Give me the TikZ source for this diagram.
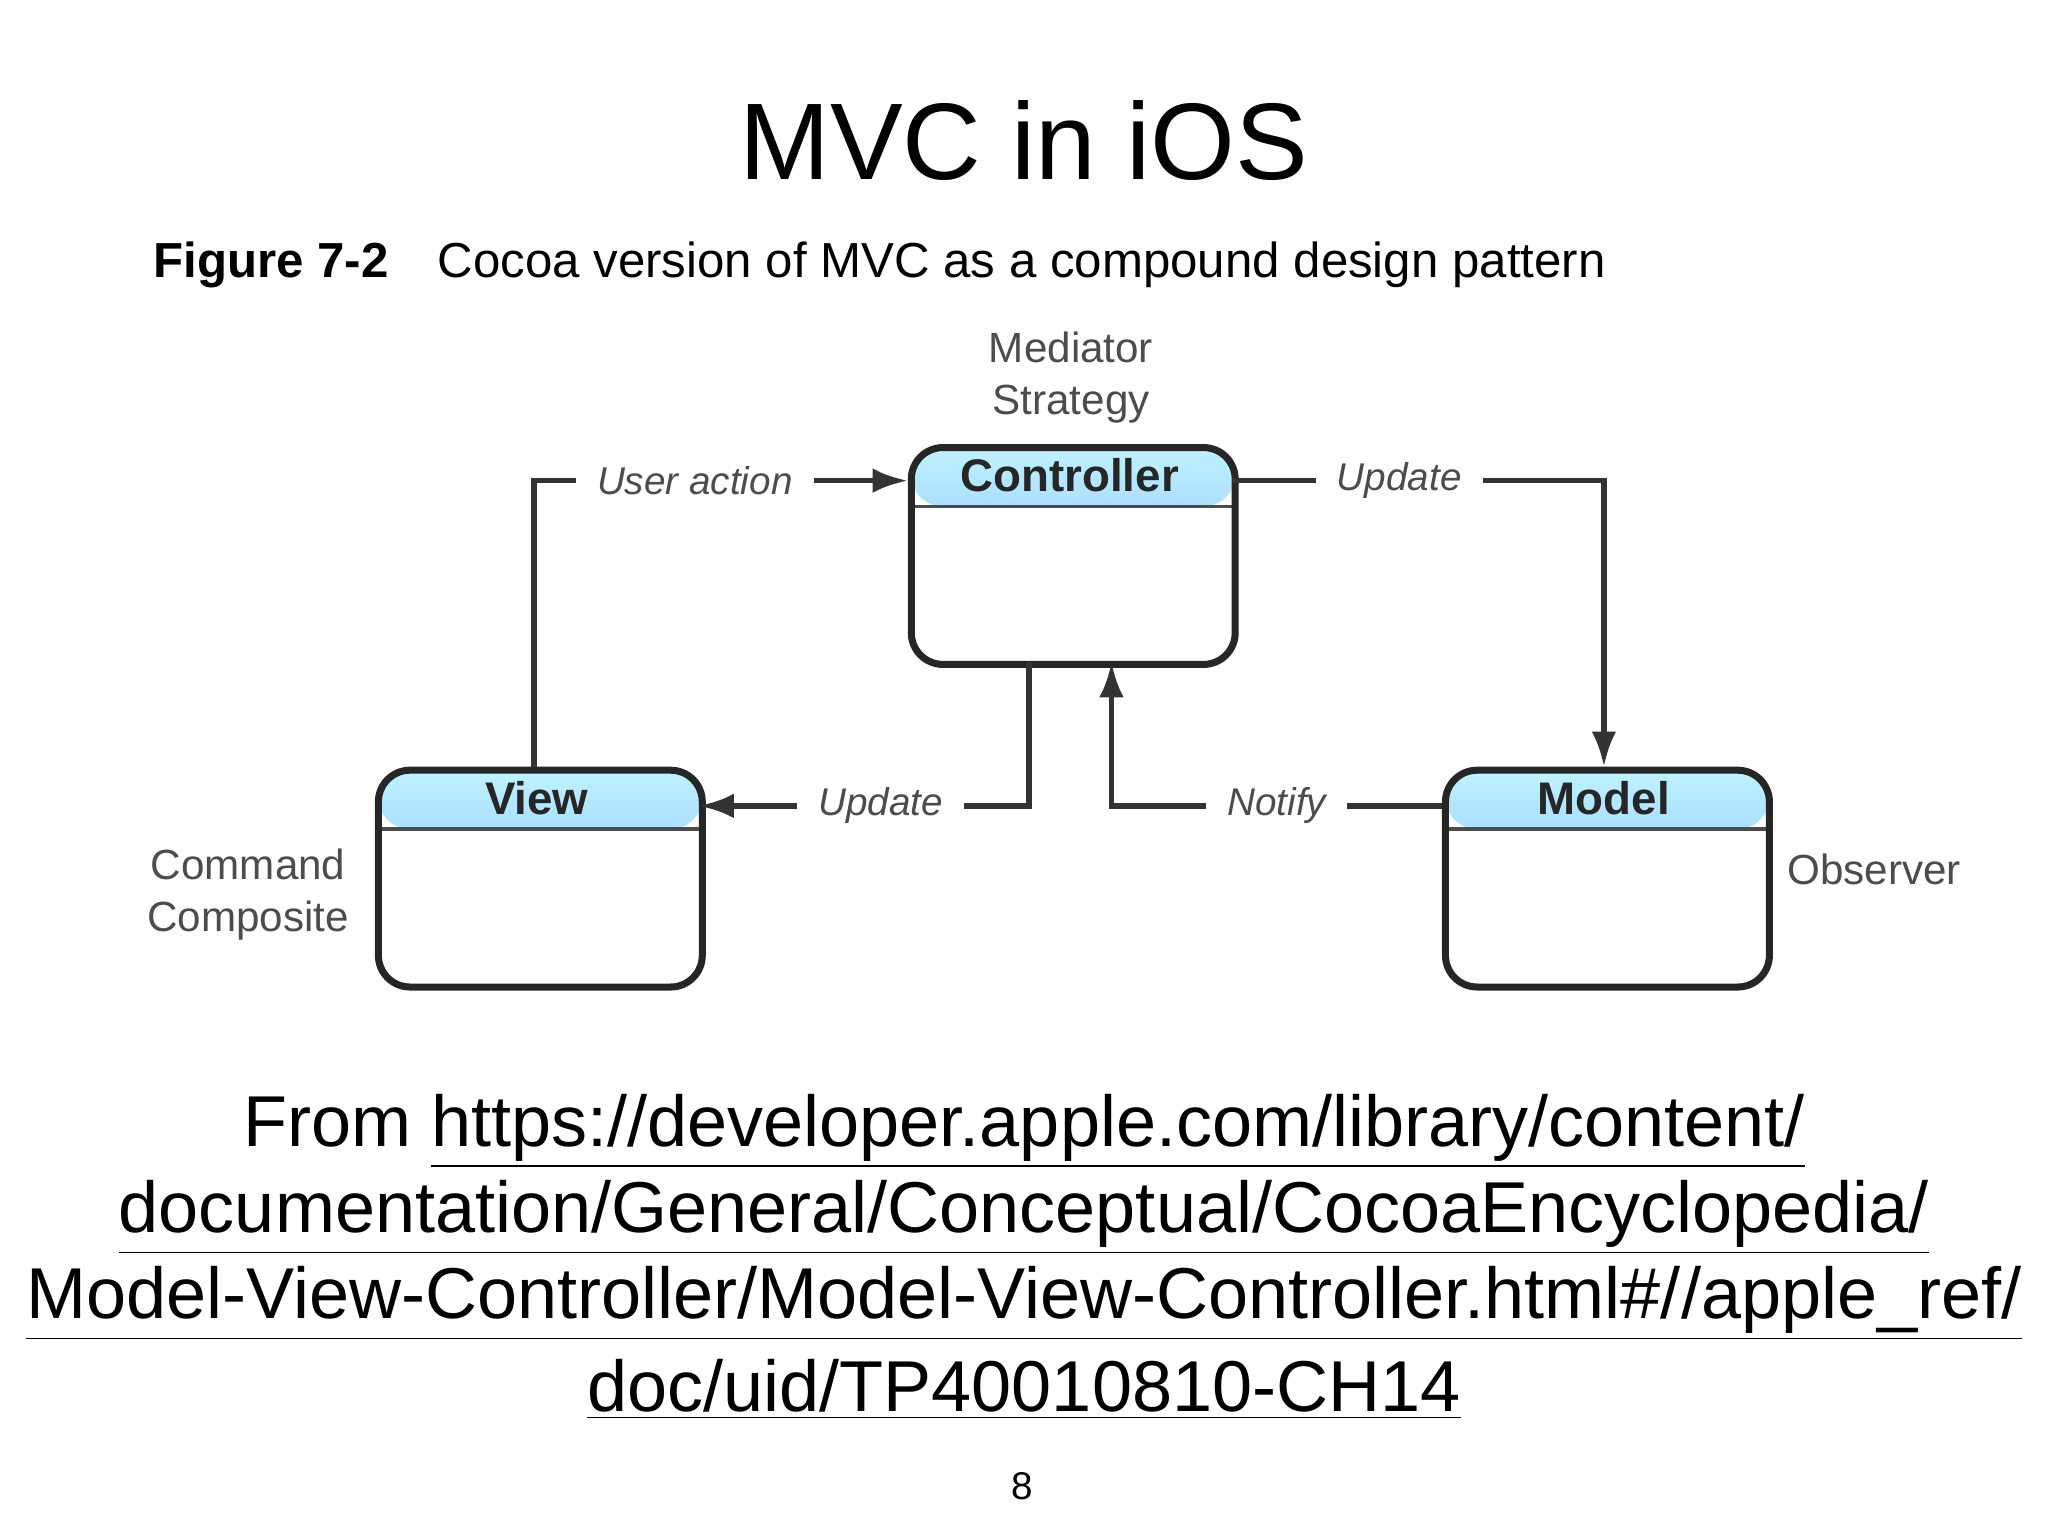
\documentclass[tikz,border=0pt]{standalone}
\usepackage{fontspec}
\setmainfont{Liberation Sans}
\usetikzlibrary{arrows.meta}
\begin{document}
\begin{tikzpicture}[x=0.013061cm,y=-0.013061cm,
  box/.style={draw=black!85,line width=2pt,rounded corners=9pt,minimum width=248*0.013061cm,minimum height=166*0.013061cm,fill=white,
    path picture={\fill[top color=blue!20!cyan!25,bottom color=blue!60!cyan!55] (path picture bounding box.north west) rectangle ([yshift=-45*0.013061cm]path picture bounding box.north east);
      \draw[line width=1pt,black!70] ([yshift=-45*0.013061cm]path picture bounding box.north west) -- ([yshift=-45*0.013061cm]path picture bounding box.north east);}},
  hd/.style={font=\fontsize{13}{15}\selectfont\bfseries,text=black!85},
  lab/.style={font=\fontsize{11}{13}\selectfont\itshape,text=black!70,fill=white,inner xsep=6pt},
  side/.style={font=\fontsize{12}{15}\selectfont,text=black!70,align=center},
  con/.style={line width=1.6pt,black!80},
  arr/.style={con,-{Latex[length=10pt,width=7pt]}},
  url/.style={font=\fontsize{20.5}{25}\selectfont}]
\useasboundingbox (0,0) rectangle (1568,1176);
\node (title) at (784,108) {\fontsize{31}{36}\selectfont MVC in iOS};
\node[anchor=west] (cap) at (108,203) {\fontsize{14}{17}\selectfont\textbf{Figure 7-2}\quad Cocoa version of MVC as a compound design pattern};
\node[side] (med) at (820,289) {Mediator\\Strategy};
\node[box,anchor=north west] (C) at (695,340) {};
\node[box,anchor=north west] (V) at (287,587) {};
\node[box,anchor=north west] (M) at (1104,587) {};
\node[hd] (ct) at (819,364) {Controller};
\node[hd] (vt) at (411,611) {View};
\node[hd] (mt) at (1228,611) {Model};
\node[side] (cc) at (190,685) {Command\\Composite};
\node[side] (ob) at (1435,666) {Observer};
\coordinate (v1) at (409,587);\coordinate (v2) at (409,368);\coordinate (c1) at (695,368);
\draw[arr] (v1) -- (v2) -- (c1) node[lab,pos=0.43] (ua) {User action};
\coordinate (c2) at (943,368);\coordinate (m0) at (1228,368);\coordinate (m1) at (1228,587);
\draw[arr] (c2) -- (m0) node[lab,pos=0.45] (up1) {Update} -- (m1);
\coordinate (c3) at (788,507);\coordinate (c4) at (788,617);\coordinate (v3) at (535,617);
\draw[arr] (c3) -- (c4) -- (v3) node[lab,pos=0.45] (up2) {Update};
\coordinate (m2) at (1104,617);\coordinate (c5) at (851,617);\coordinate (c6) at (851,507);
\draw[arr] (m2) -- (c5) node[lab,pos=0.5] (nt) {Notify} -- (c6);
\node[url] (u1) at (784,866) {From \underline{https://developer.apple.com/library/content/}};
\node[url] (u2) at (784,932) {\underline{documentation/General/Conceptual/CocoaEncyclopedia/}};
\node[url] (u3) at (784,998) {\underline{Model-View-Controller/Model-View-Controller.html\#//apple\_ref/}};
\node[url] (u4) at (784,1064) {\underline{doc/uid/TP40010810-CH14}};
\node (pg) at (783,1138) {\fontsize{11}{13}\selectfont 8};
\end{tikzpicture}
\end{document}
